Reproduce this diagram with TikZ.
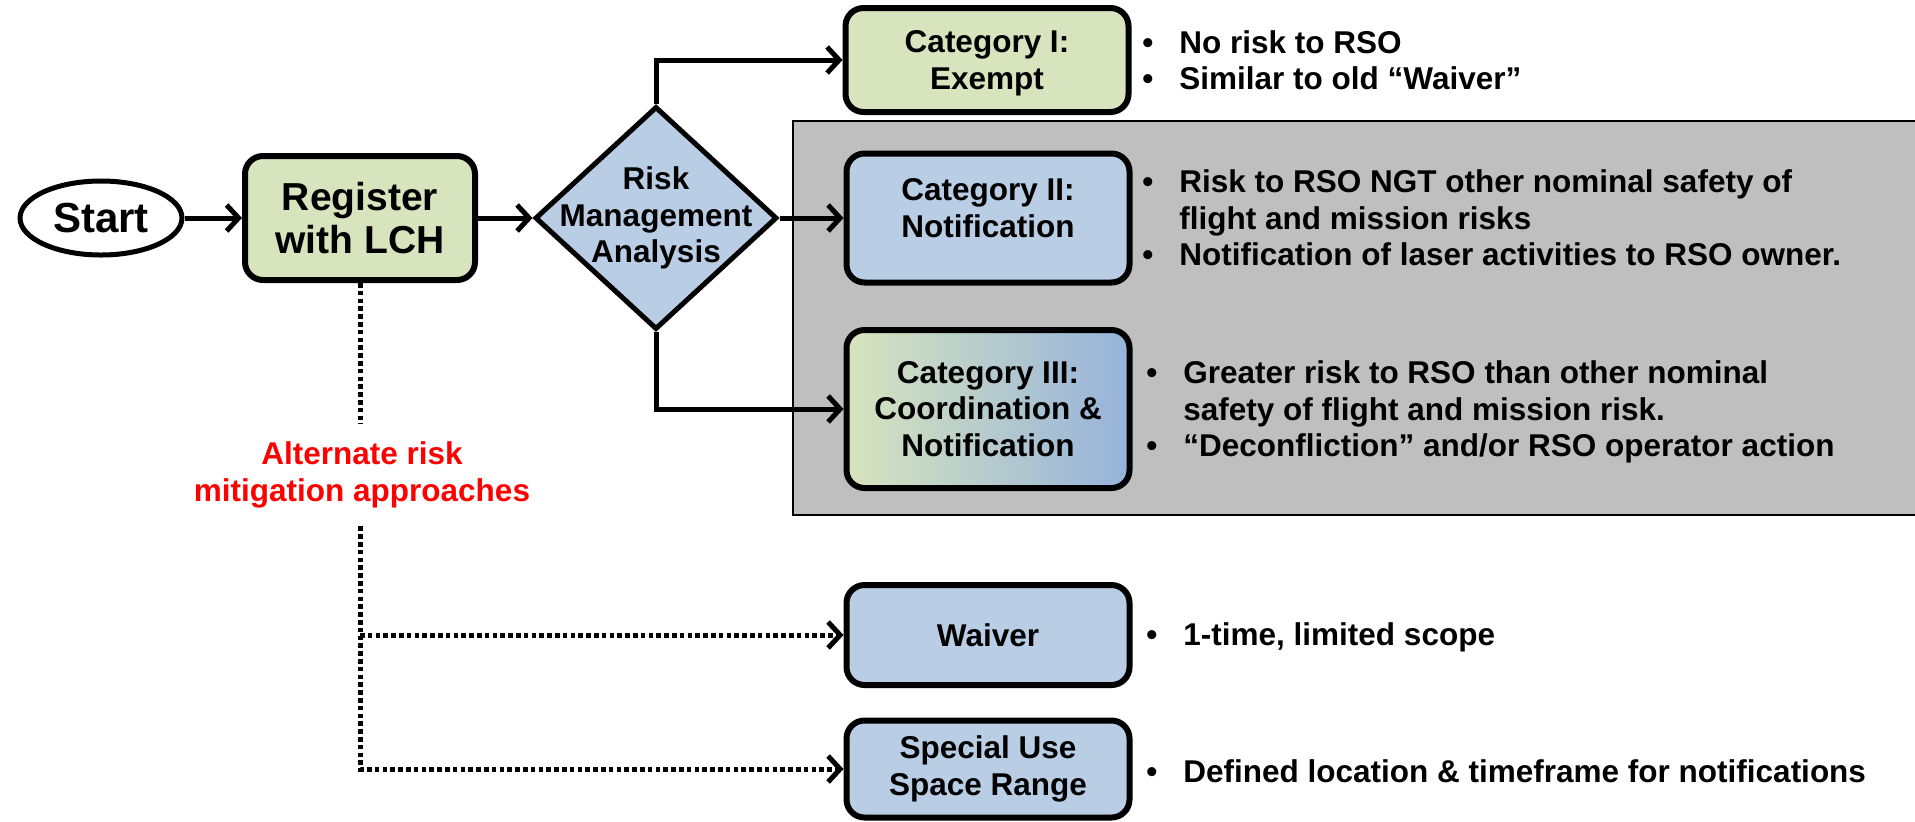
\documentclass[tikz,border=0pt]{standalone}
\usepackage{fontspec}
\setmainfont{Liberation Sans}
\usetikzlibrary{shapes.geometric,arrows.meta}

\definecolor{boxgreen}{RGB}{215,228,189}
\definecolor{boxblue}{RGB}{185,205,229}
\definecolor{deepblue}{RGB}{150,178,220}
\definecolor{midtone}{RGB}{192,210,208}
\definecolor{panelgray}{RGB}{191,191,191}

\newcommand{\boxfont}{\fontsize{15.75}{18.25}\selectfont\bfseries}
\newcommand{\regfont}{\fontsize{19.5}{21.5}\selectfont\bfseries}
\newcommand{\startfont}{\fontsize{21}{24}\selectfont\bfseries}

\tikzset{
  flow/.style={line width=2.5pt},
  dots/.style={line width=2.5pt, dash pattern=on 2.3pt off 1.6pt},
  startnode/.style={ellipse, draw, line width=2.5pt, fill=white, inner sep=0pt,
    minimum width=81pt, minimum height=37pt, font=\startfont},
  regbox/.style={rectangle, rounded corners=9pt, draw, line width=3pt, fill=boxgreen,
    align=center, minimum width=115pt, minimum height=62pt, font=\regfont},
  decision/.style={diamond, draw, line width=2.5pt, fill=boxblue, inner sep=0pt,
    minimum width=121pt, minimum height=111.5pt},
  catbox/.style={rectangle, rounded corners=9pt, draw, line width=3pt,
    align=center, minimum width=141.5pt, font=\boxfont},
  bullets/.style={anchor=west, inner sep=0pt, font=\boxfont},
  alttext/.style={align=center, text=red, inner xsep=2pt, inner ysep=9pt, font=\boxfont}
}

\begin{document}
\begin{tikzpicture}[x=0.5pt,y=-0.5pt,>={Straight Barb[length=6pt,width=13pt]}]
\useasboundingbox (0,0) rectangle (1915,821);
% grey panel behind categories II and III
\filldraw[fill=panelgray, draw=black, line width=1pt] (793,121) rectangle (1925,515);

\node[startnode] (start) at (101,218) {Start};
\node[regbox] (reg) at (360,218) {Register\\with LCH};
\node[decision, label={[name=rmatext, align=center, font=\boxfont]center:Risk\\Management\\Analysis}] (rma) at (656,218) {};

% categories, top to bottom
\node[catbox, fill=boxgreen, minimum height=52pt, text depth=0pt] (cat1) at (987,60) {Category I:\\Exempt};
\node[catbox, fill=boxblue, minimum height=64.5pt, text depth=10pt] (cat2) at (988,218) {Category II:\\Notification};
\node[catbox, left color=boxgreen, middle color=midtone, right color=deepblue,
  minimum height=79pt] (cat3) at (988,409) {Category III:\\Coordination \&\\Notification};
\node[catbox, fill=boxblue, minimum height=50pt] (waiv) at (988,635) {Waiver};
\node[catbox, fill=boxblue, minimum height=48.5pt] (spec) at (988,769) {Special Use\\Space Range};

\node[alttext] (alt) at (362,475) {Alternate risk\\mitigation approaches};

% bullet texts
\node[bullets] (b1) at (1142,64) {\begin{tabular}{@{}l@{\hspace{13pt}}l@{}}
  \textbullet & No risk to RSO\\
  \textbullet & Similar to old “Waiver”\end{tabular}};
\node[bullets] (b2) at (1142,222) {\begin{tabular}{@{}l@{\hspace{13pt}}l@{}}
  \textbullet & Risk to RSO NGT other nominal safety of\\
              & flight and mission risks\\
  \textbullet & Notification of laser activities to RSO owner.\end{tabular}};
\node[bullets] (b3) at (1146,413) {\begin{tabular}{@{}l@{\hspace{13pt}}l@{}}
  \textbullet & Greater risk to RSO than other nominal\\
              & safety of flight and mission risk.\\
  \textbullet & “Deconfliction” and/or RSO operator action\end{tabular}};
\node[bullets] (b4) at (1146,638) {\begin{tabular}{@{}l@{\hspace{13pt}}l@{}}
  \textbullet & 1-time, limited scope\end{tabular}};
\node[bullets] (b5) at (1146,775) {\begin{tabular}{@{}l@{\hspace{13pt}}l@{}}
  \textbullet & Defined location \& timeframe for notifications\end{tabular}};

% solid flow
\draw[flow,->] (start) -- (reg);
\draw[flow,->] (reg) -- (rma);
\draw[flow,->] (rma.north) |- (cat1.west);
\draw[flow,->] (rma.east) -- (cat2.west);
\draw[flow,->] (rma.south) |- (cat3.west);

% dotted alternatives
\draw[dots] (reg.south) -- (reg.south |- alt.north);
\draw[dots,->] (reg.south |- alt.south) |- (spec.west);
\draw[dots,->] (reg.south |- waiv.west) -- (waiv.west);
\end{tikzpicture}
\end{document}
